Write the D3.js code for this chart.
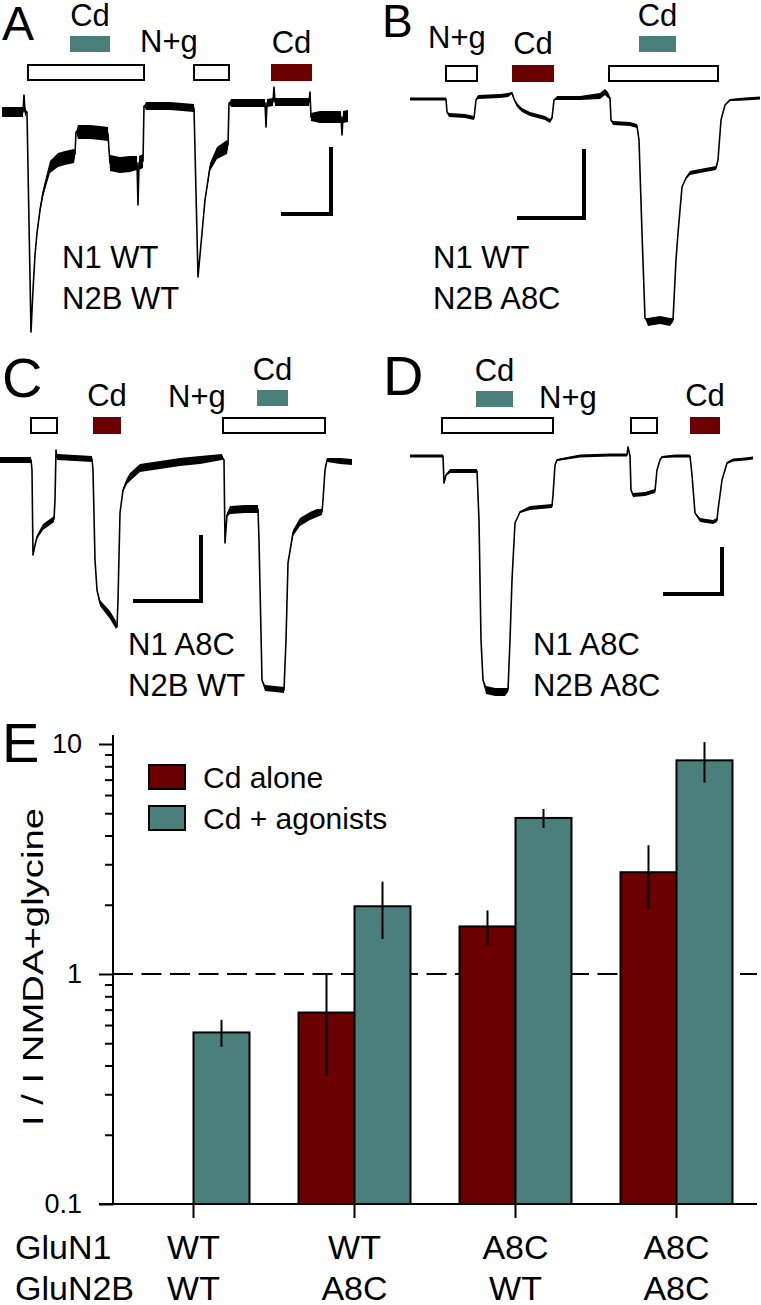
<!DOCTYPE html>
<html>
<head>
<meta charset="utf-8">
<script src="https://cdn.jsdelivr.net/npm/d3@7"></script>
<style>
body { margin: 0; background: #fff; }
svg text { font-family: 'Liberation Sans', Arial, sans-serif; fill: #000; }
</style>
</head>
<body>
<svg width="761" height="1305"></svg>
<script>
// Current traces, [time, current, noise half-width] (arbitrary units, 0 = baseline)
var traceA = [[2,-4,5],[23,-4,5],[24,13,0],[25,-4,5],[27,-4,0],[31,-224,0],[33,-182,0],[35,-147,1],[37,-125,2],[40,-102,3],
    [43,-85,4],[47,-70,5],[50,-59,6],[58,-52,7],[65,-50,7],[74,-48,7],[75,-46,3],[76,-24,0],[78,-24,7],[90,-24,7],
    [100,-25,7],[108,-26,7],[109,-42,0],[110,-55,8],[120,-57,8],[130,-56,8],[137,-55,7],[138,-97,0],[139,-55,7],[143,-53,7],
    [144,2,0],[146,2,4],[170,2,4],[194,0,4],[195,-42,0],[198,-169,0],[200,-147,0],[202,-125,1],[205,-92,2],[210,-59,4],
    [217,-45,6],[227,-39,7],[228,-37,3],[229,5,0],[231,5,4],[250,5,4],[265,5,4],[266,-19,0],[267,5,4],[273,6,4],
    [274,21,0],[275,6,4],[300,6,4],[309,6,4],[310,16,0],[311,-9,4],[320,-9,6],[341,-9,6],[342,-27,0],[343,-9,6],[348,-8,6]];
var traceB = [[30,0,1.5],[66,0,1.5],[67,-13,0],[69,-16,2],[85,-17,2],[94,-19,2],[96,-1,0],[98,2,2],[120,3,2],[128,4,2],
    [132,6,1],[134,0,1],[137,-6,2],[142,-11,2],[150,-15,2],[165,-19,2],[170,-22,2],[172,-19,1],[174,-1,0],[177,1,2],
    [200,1,2],[220,3,3],[225,7,3],[228,4,3],[230,1,1],[231,-21,0],[233,-24,2],[250,-25,2],[257,-27,2],[259,-41,0],
    [262,-134,0],[265,-219,0],[268,-223,4],[280,-221,4],[290,-223,4],[293,-221,2],[296,-161,0],[298,-134,0],[302,-88,0],[306,-79,1],
    [310,-74,2],[320,-72,2],[336,-69,2],[338,-61,0],[341,-21,0],[345,-6,0],[350,-1,1],[365,0,1.5],[380,1,1.5]];
var traceC = [[0,0,3],[31,0,3],[32,-10,0],[33,-95,0],[35,-85,0],[37,-77,2],[43,-67,3],[50,-62,3],[54,-59,3],[55,-40,0],
    [56,10,0],[57,3,3],[75,2,3],[92,1,3],[93,-10,0],[95,-100,0],[97,-130,0],[100,-143,3],[110,-155,4],[116,-165,4],
    [117,-167,0],[118,-140,0],[120,-53,0],[123,-30,2],[127,-21,3],[130,-17,4],[140,-8,4],[160,-5,4],[180,-2,4],[200,0,4],
    [222,3,3],[224,0,0],[225,-83,0],[227,-55,2],[230,-50,4],[245,-49,4],[258,-49,4],[259,-80,0],[262,-220,0],[265,-228,3],
    [275,-229,3],[284,-230,3],[286,-180,0],[288,-103,0],[293,-73,3],[300,-62,4],[310,-56,4],[317,-53,4],[322,-52,3],[323,-40,0],
    [325,-10,0],[327,0,2],[340,-1,3],[352,-2,3]];
var traceD = [[30,0,1.5],[63,0,1.5],[64,-27,0],[66,-19,1],[70,-15,2],[85,-15,2],[97,-15,2],[99,-64,0],[101,-184,0],[103,-224,0],
    [106,-234,4],[115,-236,4],[125,-236,4],[128,-234,2],[130,-184,0],[132,-124,0],[135,-67,0],[140,-56,1],[150,-52,2],[172,-50,2],
    [173,-39,0],[175,-9,0],[177,-4,1],[200,0,1.5],[230,1,1.5],[247,1,1.5],[248,9,0],[250,0,0],[251,-34,0],[253,-39,2],
    [265,-38,2],[275,-35,2],[277,-14,0],[280,-4,0],[282,-1,1],[295,0,1.5],[310,0,1.5],[312,-19,0],[315,-57,0],[320,-64,2],
    [333,-66,2],[337,-64,2],[338,-54,0],[342,-24,0],[347,-7,1],[353,-4,1.5],[365,-3,1.5],[373,-2,1.5]];

// Applications [start, end]
var agonistA = [[28,144],[194,229]], cdAgonistA = [70,110], cdAloneA = [271,312];
var agonistB = [[66,97],[229,338]], cdAgonistB = [259,296], cdAloneB = [132,174];
var agonistC = [[31,57],[223,325]], cdAgonistC = [257,288], cdAloneC = [93,121];
var agonistD = [[62,173],[251,277]], cdAgonistD = [96,133], cdAloneD = [310,340];

// Calibration bars: corner time, corner current, time length, current length
var calA = [331,-106,50,67], calB = [204,-119,67,69], calC = [201,-141,68,66], calD = [342,-138,59,47];

// Summary data (panel E)
var groups = ['WT/WT', 'WT/A8C', 'A8C/WT', 'A8C/A8C'];
var gluN1 = ['WT', 'WT', 'A8C', 'A8C'];
var gluN2B = ['WT', 'A8C', 'WT', 'A8C'];
var cdAlone = [null, 0.68, 1.61, 2.77];
var cdAloneErr = [null, 0.32, 0.28, 0.86];
var cdAgonists = [0.557, 1.97, 4.77, 8.49];
var cdAgonistsErr = [0.075, 0.55, 0.45, 1.7];
var legendLabels = ['Cd alone', 'Cd + agonists'];
var yTicks = [0.1, 1, 10];
var yTickLabels = ['0.1', '1', '10'];

var red = '#6b0000', teal = '#4a7f7c';
var svg = d3.select('svg');

var panels = [
    {id: 'A', x0: 0, y0: 108, trace: traceA, ag: agonistA, cdAg: cdAgonistA, cdAl: cdAloneA, cal: calA,
        rowY: 65, tealY: 36, ng: [140, 52], geno: ['N1 WT', 'N2B WT'], genoPos: [62, 268], letter: [2, 40, 48]},
    {id: 'B', x0: 380, y0: 99, trace: traceB, ag: agonistB, cdAg: cdAgonistB, cdAl: cdAloneB, cal: calB,
        rowY: 66, tealY: 36, ng: [48, 48], geno: ['N1 WT', 'N2B A8C'], genoPos: [53, 268], letter: [2, 37, 46]},
    {id: 'C', x0: 0, y0: 460, trace: traceC, ag: agonistC, cdAg: cdAgonistC, cdAl: cdAloneC, cal: calC,
        rowY: 418, tealY: 390, ng: [168, 407], geno: ['N1 A8C', 'N2B WT'], genoPos: [128, 655], letter: [2, 397, 56]},
    {id: 'D', x0: 380, y0: 456, trace: traceD, ag: agonistD, cdAg: cdAgonistD, cdAl: cdAloneD, cal: calD,
        rowY: 418, tealY: 391, ng: [159, 408], geno: ['N1 A8C', 'N2B A8C'], genoPos: [153, 655], letter: [3, 395, 56]}
];

panels.forEach(function(p) {
    var x = d3.scaleLinear().domain([0, 380]).range([p.x0, p.x0 + 380]);
    var y = d3.scaleLinear().domain([0, -300]).range([p.y0, p.y0 + 300]);
    var g = svg.append('g').attr('class', 'panel-' + p.id);

    g.append('text')
        .attr('x', p.x0 + p.letter[0]).attr('y', p.letter[1])
        .style('font-size', p.letter[2] + 'px')
        .text(p.id);

    // noise band + trace line
    var band = d3.area()
        .x(function(d) { return x(d[0]); })
        .y0(function(d) { return y(d[1] - d[2]); })
        .y1(function(d) { return y(d[1] + d[2]); });
    var line = d3.line()
        .x(function(d) { return x(d[0]); })
        .y(function(d) { return y(d[1]); });
    g.append('path').datum(p.trace).attr('d', band).attr('fill', '#000');
    g.append('path').datum(p.trace).attr('d', line)
        .attr('fill', 'none').attr('stroke', '#000').attr('stroke-width', 1.6)
        .attr('stroke-linejoin', 'round');

    // agonist applications
    g.selectAll('.ag').data(p.ag).enter().append('rect')
        .attr('x', function(d) { return x(d[0]); })
        .attr('y', p.rowY)
        .attr('width', function(d) { return x(d[1]) - x(d[0]); })
        .attr('height', 15)
        .attr('fill', '#fff').attr('stroke', '#000').attr('stroke-width', 2);

    g.append('rect')
        .attr('x', x(p.cdAg[0])).attr('y', p.tealY)
        .attr('width', x(p.cdAg[1]) - x(p.cdAg[0])).attr('height', 16)
        .attr('fill', teal);
    g.append('rect')
        .attr('x', x(p.cdAl[0])).attr('y', p.rowY - 1)
        .attr('width', x(p.cdAl[1]) - x(p.cdAl[0])).attr('height', 17)
        .attr('fill', red);

    g.append('text')
        .attr('x', x((p.cdAg[0] + p.cdAg[1]) / 2)).attr('y', p.tealY - 10)
        .attr('text-anchor', 'middle').style('font-size', '31px').text('Cd');
    g.append('text')
        .attr('x', x((p.cdAl[0] + p.cdAl[1]) / 2)).attr('y', p.rowY - 12)
        .attr('text-anchor', 'middle').style('font-size', '31px').text('Cd');
    g.append('text')
        .attr('x', x(p.ng[0])).attr('y', p.ng[1])
        .style('font-size', '31px').text('N+g');

    // calibration
    var c = p.cal;
    g.append('path')
        .attr('d', 'M' + x(c[0] - c[2]) + ',' + y(c[1]) + 'H' + x(c[0]) + 'V' + y(c[1] + c[3]))
        .attr('fill', 'none').attr('stroke', '#000').attr('stroke-width', 4);

    g.selectAll('.geno').data(p.geno).enter().append('text')
        .attr('x', x(p.genoPos[0]))
        .attr('y', function(d, i) { return p.genoPos[1] + i * 41; })
        .style('font-size', '31px')
        .text(function(d) { return d; });
});

// ---- Panel E ----
var plotLeft = 113, plotRight = 757, plotTop = 744, plotBottom = 1204;
var yScale = d3.scaleLog().domain([0.1, 10]).range([plotBottom, plotTop]);
var xScale = d3.scalePoint().domain(groups).range([plotLeft, plotRight]).padding(0.5);
var barW = 56;

svg.append('text').attr('x', 2).attr('y', 762).style('font-size', '56px').text('E');

// reference line at 1
svg.append('line')
    .attr('x1', plotLeft).attr('x2', plotRight)
    .attr('y1', yScale(1)).attr('y2', yScale(1))
    .attr('stroke', '#000').attr('stroke-width', 2)
    .attr('stroke-dasharray', '20,8.5');

var minor = [];
[0.1, 1].forEach(function(dec) {
    for (var k = 2; k <= 9; k++) minor.push(dec * k);
});

svg.append('g')
    .attr('class', 'y axis minor')
    .attr('transform', 'translate(' + plotLeft + ',0)')
    .call(d3.axisLeft(yScale).tickValues(minor).tickSize(8).tickFormat(''))
    .call(function(a) { a.select('.domain').remove(); });

var yAxis = svg.append('g')
    .attr('class', 'y axis')
    .attr('transform', 'translate(' + plotLeft + ',0)')
    .call(d3.axisLeft(yScale).tickValues(yTicks).tickSize(14).tickPadding(17)
        .tickFormat(function(d, i) { return yTickLabels[i]; }));
yAxis.select('.domain').remove();
yAxis.selectAll('line').attr('stroke-width', 2);
yAxis.selectAll('text').style('font-size', '27px').attr('fill', '#000');
svg.selectAll('.minor line').attr('stroke-width', 2);

svg.append('line')
    .attr('x1', plotLeft).attr('x2', plotLeft)
    .attr('y1', plotTop - 9).attr('y2', plotBottom)
    .attr('stroke', '#000').attr('stroke-width', 2);

// bars
var barsG = svg.append('g').attr('class', 'bars');
barsG.selectAll('.bar-cd').data(groups.filter(function(g, i) { return cdAlone[i] !== null; }))
    .enter().append('rect')
    .attr('x', function(d) { return xScale(d) - barW; })
    .attr('y', function(d) { return yScale(cdAlone[groups.indexOf(d)]); })
    .attr('width', barW)
    .attr('height', function(d) { return plotBottom - yScale(cdAlone[groups.indexOf(d)]); })
    .attr('fill', red).attr('stroke', '#000').attr('stroke-width', 2);
barsG.selectAll('.bar-ag').data(groups)
    .enter().append('rect')
    .attr('x', function(d) { return xScale(d); })
    .attr('y', function(d, i) { return yScale(cdAgonists[i]); })
    .attr('width', barW)
    .attr('height', function(d, i) { return plotBottom - yScale(cdAgonists[i]); })
    .attr('fill', teal).attr('stroke', '#000').attr('stroke-width', 2);

// error bars
groups.forEach(function(g, i) {
    if (cdAlone[i] !== null) {
        barsG.append('line')
            .attr('x1', xScale(g) - barW / 2).attr('x2', xScale(g) - barW / 2)
            .attr('y1', yScale(cdAlone[i] + cdAloneErr[i]))
            .attr('y2', yScale(cdAlone[i] - cdAloneErr[i]))
            .attr('stroke', '#000').attr('stroke-width', 2);
    }
    barsG.append('line')
        .attr('x1', xScale(g) + barW / 2).attr('x2', xScale(g) + barW / 2)
        .attr('y1', yScale(cdAgonists[i] + cdAgonistsErr[i]))
        .attr('y2', yScale(cdAgonists[i] - cdAgonistsErr[i]))
        .attr('stroke', '#000').attr('stroke-width', 2);
});

// x axis
svg.append('line')
    .attr('x1', 99).attr('x2', plotRight)
    .attr('y1', plotBottom).attr('y2', plotBottom)
    .attr('stroke', '#000').attr('stroke-width', 2);
svg.selectAll('.xtick').data(groups).enter().append('line')
    .attr('x1', function(d) { return xScale(d); })
    .attr('x2', function(d) { return xScale(d); })
    .attr('y1', plotBottom).attr('y2', plotBottom + 14)
    .attr('stroke', '#000').attr('stroke-width', 2);

svg.append('text').attr('x', 15).attr('y', 1259).style('font-size', '34px').text('GluN1');
svg.append('text').attr('x', 15).attr('y', 1300).style('font-size', '34px').text('GluN2B');
svg.selectAll('.xl1').data(groups).enter().append('text')
    .attr('x', function(d) { return xScale(d); }).attr('y', 1259)
    .attr('text-anchor', 'middle').style('font-size', '34px')
    .text(function(d, i) { return gluN1[i]; });
svg.selectAll('.xl2').data(groups).enter().append('text')
    .attr('x', function(d) { return xScale(d); }).attr('y', 1300)
    .attr('text-anchor', 'middle').style('font-size', '34px')
    .text(function(d, i) { return gluN2B[i]; });

// y title
svg.append('text')
    .attr('transform', 'translate(43,967) rotate(-90)')
    .attr('text-anchor', 'middle')
    .style('font-size', '30px')
    .attr('textLength', 318).attr('lengthAdjust', 'spacingAndGlyphs')
    .text('I / I NMDA+glycine');

// legend
var legend = svg.append('g').attr('class', 'legend');
legend.selectAll('rect').data(legendLabels).enter().append('rect')
    .attr('x', 149).attr('y', function(d, i) { return 765 + i * 41; })
    .attr('width', 36).attr('height', 24)
    .attr('fill', function(d, i) { return i === 0 ? red : teal; })
    .attr('stroke', '#000').attr('stroke-width', 2);
legend.selectAll('text').data(legendLabels).enter().append('text')
    .attr('x', 203).attr('y', function(d, i) { return 788 + i * 41; })
    .style('font-size', '30px')
    .text(function(d) { return d; });
</script>
</body>
</html>
